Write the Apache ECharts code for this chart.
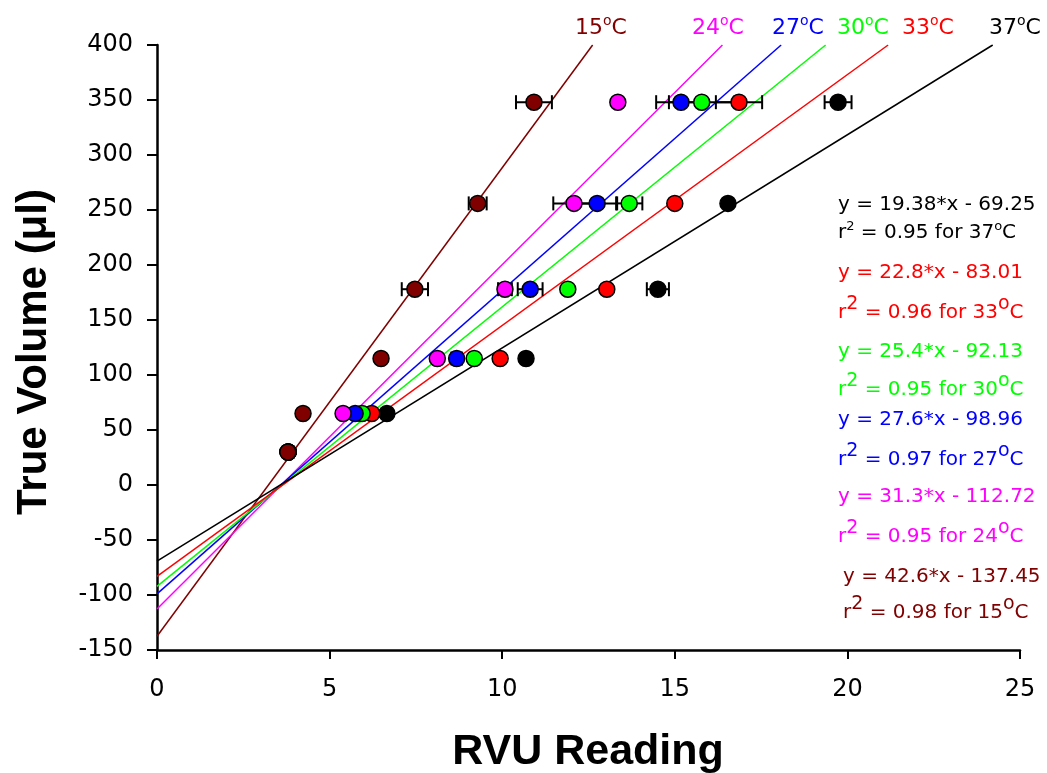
<!DOCTYPE html>
<html>
<head>
<meta charset="utf-8">
<title>True Volume vs RVU Reading</title>
<script src="https://cdn.jsdelivr.net/npm/echarts@6/dist/echarts.min.js"></script>
<style>
  html, body { margin: 0; padding: 0; background: #fff; }
  #chart { width: 1047px; height: 773px; }
</style>
</head>
<body>
<div id="chart"></div>
<script>
// true volume levels (same for every temperature)
const volumes = [30, 65, 115, 178, 256, 348]

// RVU readings per temperature, and horizontal error (+/-)
const rvu15 = [3.79, 4.23, 6.49, 7.47, 9.29, 10.92]
const err15 = [0.05, 0.08, 0.1, 0.38, 0.26, 0.52]
const rvu24 = [3.8, 5.39, 8.12, 10.08, 12.08, 13.35]
const err24 = [0.05, 0.1, 0.12, 0.2, 0.6, 0.1]
const rvu27 = [3.8, 5.74, 8.68, 10.81, 12.75, 15.18]
const err27 = [0.05, 0.1, 0.15, 0.36, 0.58, 0.72]
const rvu30 = [3.8, 5.94, 9.19, 11.9, 13.68, 15.78]
const err30 = [0.05, 0.1, 0.12, 0.1, 0.38, 0.95]
const rvu33 = [3.8, 6.22, 9.94, 13.03, 15.0, 16.86]
const err33 = [0.05, 0.1, 0.1, 0.1, 0.1, 0.67]
const rvu37 = [3.8, 6.66, 10.69, 14.51, 16.54, 19.73]
const err37 = [0.05, 0.1, 0.12, 0.32, 0.1, 0.39]

// fitted lines: start at x = 0 (intercept), end where they reach 400
const fitStartY = [-137.45, -112.72, -98.96, -92.13, -83.01, -69.25]
const fitEndX = [12.62, 16.38, 18.08, 19.37, 21.18, 24.21]
const fitEndY = [400, 400, 400, 400, 400, 400]

const temps = ['15', '24', '27', '30', '33', '37']
const colors = ['#800000', '#ff00ff', '#0000ff', '#00ff00', '#ff0000', '#000000']
const slopes = ['42.6', '31.3', '27.6', '25.4', '22.8', '19.38']
const intercepts = ['137.45', '112.72', '98.96', '92.13', '83.01', '69.25']
const rsq = ['0.98', '0.95', '0.97', '0.95', '0.96', '0.95']

const rvuAll = [rvu15, rvu24, rvu27, rvu30, rvu33, rvu37]
const errAll = [err15, err24, err27, err30, err33, err37]

const chart = echarts.init(document.getElementById('chart'))

const series = []
// lines first, then error bars, then the dots on top
temps.forEach((t, i) => {
  series.push({
    name: t + ' line',
    type: 'line',
    data: [[0, fitStartY[i]], [fitEndX[i], fitEndY[i]]],
    showSymbol: false,
    silent: true,
    lineStyle: { color: colors[i], width: 1.5 },
    z: 2
  })
})
// draw 37 first so that 15 ends up on top
for (let i = temps.length - 1; i >= 0; i--) {
  series.push({
    name: temps[i] + ' err',
    type: 'custom',
    data: rvuAll[i].map((x, k) => [x, volumes[k], errAll[i][k]]),
    renderItem: (params, api) => {
      const x = api.value(0)
      const y = api.value(1)
      const e = api.value(2)
      const p1 = api.coord([x - e, y])
      const p2 = api.coord([x + e, y])
      const h = 7
      const style = { stroke: '#000', lineWidth: 2 }
      return {
        type: 'group',
        children: [
          { type: 'line', shape: { x1: p1[0], y1: p1[1], x2: p2[0], y2: p2[1] }, style },
          { type: 'line', shape: { x1: p1[0], y1: p1[1] - h, x2: p1[0], y2: p1[1] + h }, style },
          { type: 'line', shape: { x1: p2[0], y1: p2[1] - h, x2: p2[0], y2: p2[1] + h }, style }
        ]
      }
    },
    z: 3
  })
  series.push({
    name: temps[i] + ' pts',
    type: 'scatter',
    data: rvuAll[i].map((x, k) => [x, volumes[k]]),
    symbol: 'circle',
    symbolSize: 16,
    itemStyle: { color: colors[i], borderColor: '#000', borderWidth: 1.5, opacity: 1 },
    z: 4
  })
}

// text helpers
const baseFont = 'DejaVu Sans, sans-serif'
const topLabelX = [575, 692, 772, 837, 902, 989]

const graphic = []
// temperature labels above the lines
temps.forEach((t, i) => {
  graphic.push({
    type: 'text',
    x: topLabelX[i],
    y: 28,
    style: {
      text: '{a|' + t + '}{s|o}{a|C}',
      fill: colors[i],
      align: 'left',
      verticalAlign: 'middle',
      rich: {
        a: { fontSize: 22, fontFamily: baseFont, fill: colors[i] },
        s: { fontSize: 14, fontFamily: baseFont, fill: colors[i], padding: [0, 0, 14, 0] }
      }
    }
  })
})

// equations on the right, 37 at the top down to 15
const eqY = [577, 497, 420, 352, 273, 205]
const rY = [613, 537, 460, 390, 313, 233]
const eqX = [843, 838, 838, 838, 838, 838]
for (let i = temps.length - 1; i >= 0; i--) {
  const c = colors[i]
  graphic.push({
    type: 'text',
    x: eqX[i],
    y: eqY[i],
    style: {
      text: 'y = ' + slopes[i] + '*x - ' + intercepts[i],
      fill: c,
      font: '20px ' + baseFont,
      align: 'left',
      verticalAlign: 'middle'
    }
  })
  // 37 uses small superscripts, the rest big ones
  const small = i === 5
  graphic.push({
    type: 'text',
    x: eqX[i],
    y: rY[i],
    style: {
      text: '{a|r}{s|2}{a| = ' + rsq[i] + ' for ' + temps[i] + '}{s|o}{a|C}',
      fill: c,
      align: 'left',
      verticalAlign: 'middle',
      rich: {
        a: { fontSize: 20, fontFamily: baseFont, fill: c },
        s: small
          ? { fontSize: 13, fontFamily: baseFont, fill: c, padding: [0, 0, 12, 0] }
          : { fontSize: 19, fontFamily: baseFont, fill: c, padding: [0, 0, 18, 0] }
      }
    }
  })
}

// axis titles
graphic.push({
  type: 'text',
  x: 588,
  y: 752,
  style: {
    text: 'RVU Reading',
    fill: '#000',
    font: 'bold 43px Liberation Sans, Arial, sans-serif',
    align: 'center',
    verticalAlign: 'middle'
  }
})
graphic.push({
  type: 'text',
  x: 34,
  y: 352,
  rotation: Math.PI / 2,
  style: {
    text: 'True Volume (μl)',
    fill: '#000',
    font: 'bold 42px Liberation Sans, Arial, sans-serif',
    align: 'center',
    verticalAlign: 'middle'
  }
})

const option = {
  animation: false,
  backgroundColor: '#fff',
  grid: { left: 157, right: 27, top: 45, bottom: 123 },
  xAxis: {
    type: 'value',
    min: 0,
    max: 25,
    interval: 5,
    splitLine: { show: false },
    axisLine: { onZero: false, lineStyle: { color: '#000', width: 2.5 } },
    axisTick: { length: 9, lineStyle: { color: '#000', width: 2 } },
    axisLabel: { color: '#000', fontSize: 24, fontFamily: baseFont, margin: 28 }
  },
  yAxis: {
    type: 'value',
    min: -150,
    max: 400,
    interval: 50,
    splitLine: { show: false },
    axisLine: { onZero: false, lineStyle: { color: '#000', width: 2.5 } },
    axisTick: { length: 10, lineStyle: { color: '#000', width: 2 } },
    axisLabel: { color: '#000', fontSize: 24, fontFamily: baseFont, margin: 24 }
  },
  graphic: graphic,
  series: series
}

chart.setOption(option)
</script>
</body>
</html>
